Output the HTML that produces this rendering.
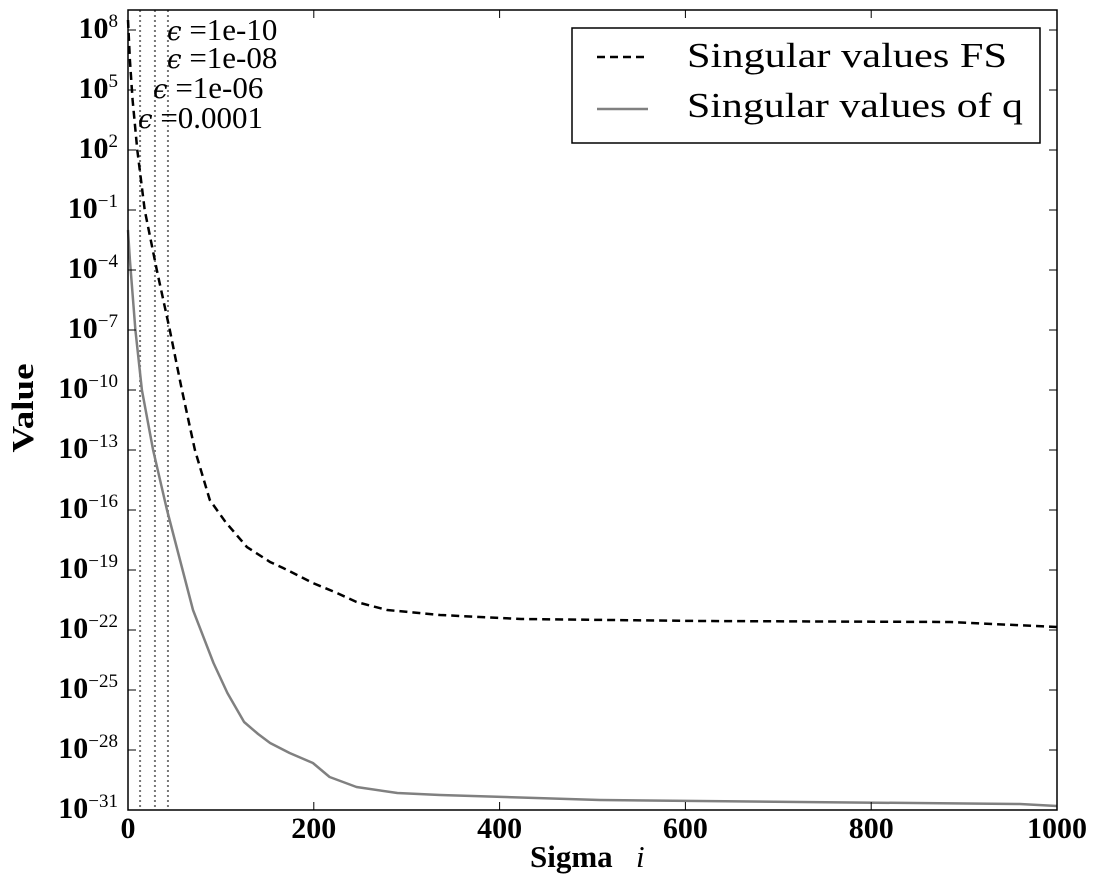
<!DOCTYPE html>
<html><head><meta charset="utf-8"><style>
body{margin:0;background:#fff}
svg{display:block;font-family:"Liberation Serif","DejaVu Serif",serif}
</style></head><body>
<svg id="chart" width="1102" height="889">
<g id="plot"></g>
</svg>
<script>
const fsIdx=[0,2,5,10,18,31,45,58,72,88,105,128,153,167,182,199,225,246,279,336,423,616,885,1000];
const fsLog=[8.5,6.5,4.5,2,-1,-4,-7,-10,-13,-15.5,-16.6,-17.85,-18.6,-18.9,-19.25,-19.65,-20.15,-20.6,-21,-21.25,-21.45,-21.55,-21.6,-21.85];
const qIdx=[0,2,8,15,27,42,56,70,92,107,125,140,153,174,199,217,246,290,336,508,723,960,1000];
const qLog=[-2,-3.5,-7,-10,-13,-16,-18.5,-21,-23.65,-25.15,-26.6,-27.2,-27.65,-28.15,-28.65,-29.35,-29.85,-30.15,-30.25,-30.5,-30.6,-30.7,-30.8];
const epsX=[13,29,43];
const epsLabels=["1e-10","1e-08","1e-06","0.0001"];
const xTicks=[0,200,400,600,800,1000];
const yTickExp=[8,5,2,-1,-4,-7,-10,-13,-16,-19,-22,-25,-28,-31];
const L=128,R=1057,T=10,B=810;
const xs=v=>L+(v/1000)*(R-L);
const ys=e=>T+(9-e)*(B-T)/40;
const NS="http://www.w3.org/2000/svg";
const g=document.getElementById('plot');
function mk(t,a,p){const e=document.createElementNS(NS,t);for(const k in a)e.setAttribute(k,a[k]);(p||g).appendChild(e);return e;}
epsX.forEach(v=>{const l=mk('line',{x1:xs(v),x2:xs(v),y1:T,y2:B,stroke:'#777','stroke-width':2,'stroke-dasharray':'2,3'});

});
function path(X,Y){return X.map((v,i)=>(i?'L':'M')+xs(v).toFixed(1)+','+ys(Y[i]).toFixed(1)).join('');}
const q=mk('path',{d:path(qIdx,qLog),fill:'none',stroke:'#808080','stroke-width':2.5,'stroke-linejoin':'round'});


const f=mk('path',{d:path(fsIdx,fsLog),fill:'none',stroke:'#000','stroke-width':2.5,'stroke-dasharray':'8,5'});


const fr=mk('rect',{x:L,y:T,width:R-L,height:B-T,fill:'none',stroke:'#000','stroke-width':1.5});


xTicks.forEach(v=>{const x=xs(v);
mk('line',{x1:x,x2:x,y1:B,y2:B-8,stroke:'#000'});mk('line',{x1:x,x2:x,y1:T,y2:T+8,stroke:'#000'});
const t=mk('text',{x:x,y:838,'text-anchor':'middle','font-size':30,'font-weight':'bold'});t.textContent=v;

});
yTickExp.forEach(e=>{const y=ys(e);
mk('line',{x1:L,x2:L+8,y1:y,y2:y,stroke:'#000'});mk('line',{x1:R,x2:R-8,y1:y,y2:y,stroke:'#000'});
const ex=(e<0?'−':'')+Math.abs(e);
const t=mk('text',{x:118,y:y+8,'text-anchor':'end','font-size':30,'font-weight':'bold'});
t.innerHTML='10<tspan dy="-11" font-size="19" font-weight="normal">'+ex+'</tspan>';

});
const epsPos=[[167,40],[167,68],[153,98],[138,128]];
epsLabels.forEach((s,i)=>{const t=mk('text',{x:epsPos[i][0],y:epsPos[i][1],'font-size':31,'font-family':'Liberation Serif, serif'});
t.innerHTML='<tspan font-family="DejaVu Serif" font-style="italic" font-size="26">ϵ</tspan> =' +s;

});
const xt=mk('text',{x:530,y:867,'font-size':31,'font-weight':'bold'});
xt.innerHTML='Sigma<tspan x="636" font-style="italic" font-weight="normal">i</tspan>';


const yt=mk('text',{x:0,y:0,'text-anchor':'middle','font-size':31,'font-weight':'bold',transform:'translate(33,408) rotate(-90)',textLength:89,lengthAdjust:'spacingAndGlyphs'});
yt.textContent='Value';


const lg=mk('g',{});


mk('rect',{x:572,y:28,width:468,height:115,fill:'#fff',stroke:'#000','stroke-width':1.5},lg);
mk('line',{x1:597,x2:648,y1:57,y2:57,stroke:'#000','stroke-width':2.5,'stroke-dasharray':'8,5'},lg);
mk('line',{x1:597,x2:648,y1:109,y2:109,stroke:'#808080','stroke-width':2.5},lg);
const l1=mk('text',{x:687,y:67,'font-size':35,textLength:320,lengthAdjust:'spacingAndGlyphs'},lg);l1.textContent='Singular values FS';


const l2=mk('text',{x:687,y:117,'font-size':35,textLength:336,lengthAdjust:'spacingAndGlyphs'},lg);l2.textContent='Singular values of q';


</script>
</body></html>
